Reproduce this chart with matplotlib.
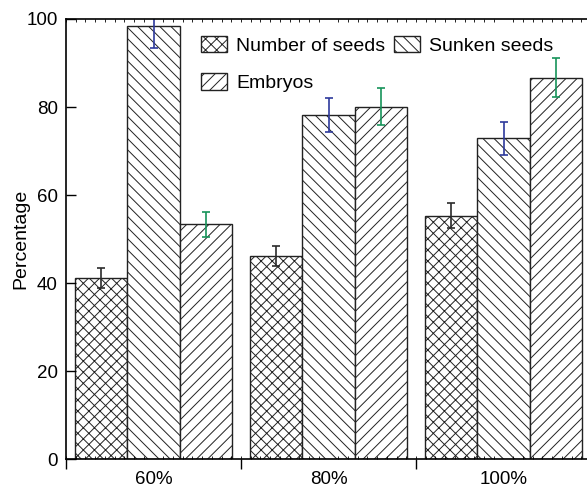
import numpy as np
import matplotlib
matplotlib.use("Agg")
import matplotlib.pyplot as plt
from matplotlib.ticker import MultipleLocator

plt.rcParams['font.family'] = ['Liberation Sans', 'DejaVu Sans']
plt.rcParams['hatch.linewidth'] = 0.7

groups = ['60%', '80%', '100%']
series = ['Number of seeds', 'Sunken seeds', 'Embryos']
number_seeds = [41.1, 46.1, 55.3]
number_err = [2.3, 2.3, 2.9]
sunken_seeds = [98.3, 78.2, 72.9]
sunken_err = [5.0, 3.9, 3.7]
embryos = [53.3, 80.1, 86.7]
embryos_err = [2.8, 4.2, 4.5]

hatches = ['xxx', '\\\\\\', '///']
err_colors = ['#2b2b2b', '#2e3a9c', '#17935a']

fig = plt.figure(figsize=(5.87, 4.91), dpi=100)
ax = fig.add_axes([66 / 587, 32 / 491, 525 / 587, 440 / 491])

x = np.arange(1, len(groups) + 1)
width = 0.3
handles = []
for i, (vals, errs) in enumerate([(number_seeds, number_err),
                                  (sunken_seeds, sunken_err),
                                  (embryos, embryos_err)]):
    pos = x + (i - 1) * width
    b = ax.bar(pos, vals, width, color='white', edgecolor='#222222',
               linewidth=1.0, hatch=hatches[i], label=series[i])
    ax.errorbar(pos, vals, yerr=errs, fmt='none', ecolor=err_colors[i],
                elinewidth=1.2, capsize=3, capthick=1.2)
    handles.append(b)

ax.set_xlim(0.5, 3.5)
ax.set_ylim(0, 100)

ax.set_xticks(x, groups)
ax.xaxis.set_minor_locator(MultipleLocator(1 / 18))
ax.tick_params(axis='x', which='major', length=0, pad=9, labelsize=13.5)
ax.tick_params(axis='x', which='minor', direction='in', length=2.5,
               width=0.6, top=True, bottom=True)

ax.set_yticks([0, 20, 40, 60, 80, 100])
ax.tick_params(axis='y', which='major', direction='in', length=7,
               width=1.0, pad=6, labelsize=13.5)

sec = ax.secondary_xaxis('bottom')
sec.set_xticks([0.5, 1.5, 2.5, 3.5], ['', '', '', ''])
sec.tick_params(direction='out', length=7, width=1.0)
sec.spines['bottom'].set_visible(False)

for s in ['left', 'bottom', 'top']:
    ax.spines[s].set_linewidth(1.2)
ax.spines['right'].set_visible(False)

ax.set_ylabel('Percentage', fontsize=14, labelpad=-2)

ax.legend([handles[0], handles[2], handles[1]],
          [series[0], series[2], series[1]],
          ncol=2, frameon=False, fontsize=14,
          loc='upper left', bbox_to_anchor=(0.257, 0.962),
          borderpad=0, borderaxespad=0, handlelength=1.34,
          handleheight=0.93, handletextpad=0.46, columnspacing=0.46,
          labelspacing=0.95)

fig.savefig('out.png', dpi=100)
